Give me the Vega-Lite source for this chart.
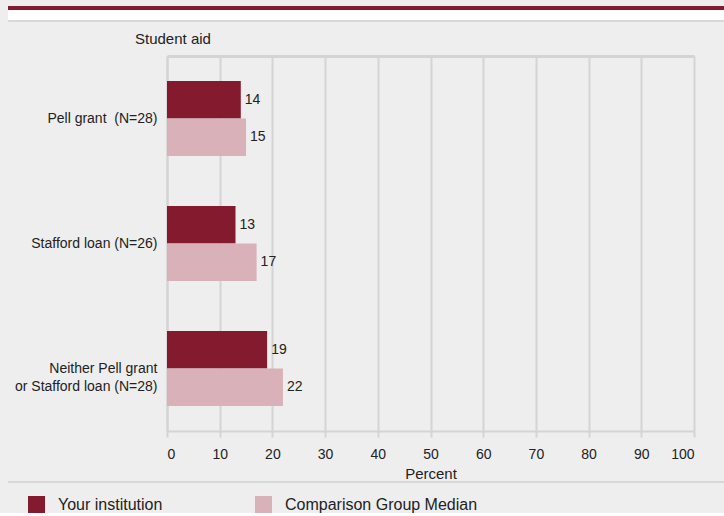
{
  "$schema": "https://vega.github.io/schema/vega-lite/v6.json",
  "background": "#eeeeee",
  "padding": {"left": 8, "top": 6, "right": 0, "bottom": 0},
  "config": {
    "font": "Liberation Sans",
    "view": {"stroke": null}
  },
  "vconcat": [
    {
      "vconcat": [
        {
          "width": 716,
          "height": 4,
          "view": {"fill": "#841a2e", "stroke": null},
          "mark": {"type": "rule", "opacity": 0},
          "encoding": {}
        },
        {
          "width": 716,
          "height": 10,
          "view": {"fill": "#ffffff", "stroke": null},
          "mark": {"type": "rule", "opacity": 0},
          "encoding": {}
        },
        {
          "width": 716,
          "height": 2,
          "view": {"fill": "#d8d8d8", "stroke": null},
          "mark": {"type": "rule", "opacity": 0},
          "encoding": {}
        }
      ],
      "spacing": 0
    },
    {
      "vconcat": [
        {
          "width": 716,
          "height": 375,
          "title": {
            "text": "Student aid",
            "anchor": "start",
            "frame": "group",
            "fontSize": 15,
            "fontWeight": "normal",
            "color": "#222222",
            "dx": 127,
            "offset": 9
          },
          "data": {
            "values": [
              {"category": "Pell grant\u00a0 (N=28)", "series": "Your institution", "value": 14},
              {"category": "Pell grant\u00a0 (N=28)", "series": "Comparison Group Median", "value": 15},
              {"category": "Stafford loan (N=26)", "series": "Your institution", "value": 13},
              {"category": "Stafford loan (N=26)", "series": "Comparison Group Median", "value": 17},
              {"category": "Neither Pell grant|or Stafford loan (N=28)", "series": "Your institution", "value": 19},
              {"category": "Neither Pell grant|or Stafford loan (N=28)", "series": "Comparison Group Median", "value": 22}
            ]
          },
          "encoding": {
            "y": {
              "field": "category",
              "type": "nominal",
              "sort": ["Pell grant\u00a0 (N=28)", "Stafford loan (N=26)", "Neither Pell grant|or Stafford loan (N=28)"],
              "scale": {"paddingInner": 0.4, "paddingOuter": 0.2},
              "axis": {
                "title": null,
                "offset": -159,
                "ticks": false,
                "domainColor": "#d4d4d4",
                "domainWidth": 2,
                "labelFontSize": 14,
                "labelColor": "#222222",
                "labelPadding": 10,
                "labelLineHeight": 18,
                "labelLimit": 300,
                "labelExpr": "split(datum.label, '|')"
              }
            },
            "yOffset": {
              "field": "series",
              "type": "nominal",
              "sort": ["Your institution", "Comparison Group Median"]
            },
            "x": {
              "field": "value",
              "type": "quantitative",
              "scale": {"domain": [0, 100], "range": [159, 686]},
              "axis": null
            }
          },
          "layer": [
            {
              "mark": {"type": "bar"},
              "encoding": {
                "x": {
                  "field": "value",
                  "type": "quantitative",
                  "scale": {"domain": [0, 100], "range": [159, 686]},
                  "axis": {
                    "title": "Percent",
                    "values": [0, 10, 20, 30, 40, 50, 60, 70, 80, 90, 100],
                    "grid": true,
                    "gridColor": "#d4d4d4",
                    "gridWidth": 2,
                    "domainColor": "#d4d4d4",
                    "domainWidth": 2,
                    "tickColor": "#d4d4d4",
                    "tickWidth": 2,
                    "tickSize": 6,
                    "labelFontSize": 14,
                    "labelColor": "#222222",
                    "labelPadding": 10,
                    "titleFontSize": 15,
                    "titleFontWeight": "normal",
                    "titleColor": "#222222",
                    "titlePadding": 5,
                    "titleX": 422.5
                  }
                },
                "color": {
                  "field": "series",
                  "type": "nominal",
                  "sort": ["Your institution", "Comparison Group Median"],
                  "scale": {"domain": ["Your institution", "Comparison Group Median"], "range": ["#841a2e", "#d8b2b8"]},
                  "legend": {
                    "title": null,
                    "orient": "none",
                    "legendX": 20,
                    "legendY": 490,
                    "direction": "horizontal",
                    "symbolType": "square",
                    "symbolSize": 289,
                    "symbolStrokeWidth": 0,
                    "symbolOpacity": 1,
                    "labelFontSize": 16,
                    "labelColor": "#222222",
                    "labelOffset": 13,
                    "labelLimit": 300,
                    "columnPadding": 92
                  }
                }
              }
            },
            {
              "mark": {"type": "text", "align": "left", "baseline": "middle", "dx": 4, "fontSize": 14, "color": "#222222"},
              "encoding": {"text": {"field": "value", "type": "quantitative"}}
            },
            {
              "mark": {"type": "rule", "opacity": 0},
              "encoding": {
                "x": {
                  "field": "value",
                  "type": "quantitative",
                  "scale": {"domain": [0, 100], "range": [159, 686]},
                  "axis": {
                    "orient": "top",
                    "title": null,
                    "labels": false,
                    "ticks": false,
                    "grid": false,
                    "domainColor": "#d4d4d4",
                    "domainWidth": 3
                  }
                }
              }
            }
          ],
          "resolve": {"axis": {"x": "independent"}}
        },
        {
          "width": 716,
          "height": 2,
          "view": {"fill": "#d8d8d8", "stroke": null},
          "mark": {"type": "rule", "opacity": 0},
          "encoding": {}
        }
      ],
      "spacing": 0
    }
  ],
  "spacing": 10
}
